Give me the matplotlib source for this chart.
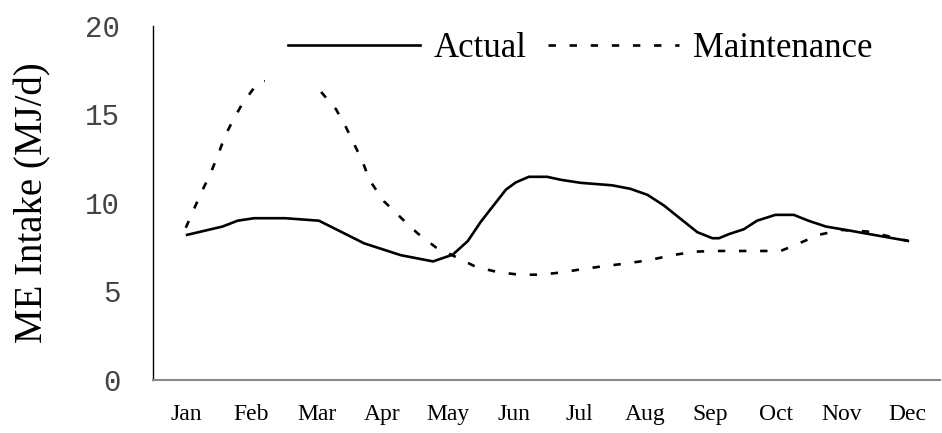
import matplotlib
matplotlib.use("Agg")
import matplotlib.pyplot as plt

# month labels and positions (0 = Jan ... 11 = Dec)
months = ['Jan', 'Feb', 'Mar', 'Apr', 'May', 'Jun', 'Jul', 'Aug', 'Sep', 'Oct', 'Nov', 'Dec']

# Actual ME intake (x in months from Jan)
actual_x = [0.02, 0.56, 0.79, 1.04, 1.52, 2.03, 2.72, 3.28, 3.77, 4.07, 4.3, 4.5, 4.88,
            5.03, 5.23, 5.51, 5.72, 6.02, 6.5, 6.78, 7.04, 7.29, 7.8, 8.03, 8.13, 8.28,
            8.51, 8.71, 8.99, 9.27, 9.5, 9.76, 10.14, 10.64, 11.01]
actual_y = [8.2, 8.67, 9.0, 9.14, 9.14, 9.0, 7.72, 7.05, 6.7, 7.08, 7.85, 8.95, 10.75,
            11.16, 11.48, 11.48, 11.31, 11.14, 11.0, 10.8, 10.46, 9.86, 8.35, 8.01, 8.01, 8.24,
            8.52, 9.0, 9.33, 9.33, 8.99, 8.67, 8.43, 8.1, 7.86]

# Maintenance requirement (peak between Feb and Mar hidden by legend)
maint_x = [0.0, 0.13, 0.25, 0.37, 0.5, 0.6, 0.71, 0.86, 1.0, 1.08, 1.5, 2.0, 2.08, 2.29,
           2.44, 2.57, 2.69, 2.8, 3.02, 3.3, 3.53, 3.81, 4.09, 4.42, 4.75, 5.08, 5.41,
           5.74, 6.05, 6.37, 6.71, 7.06, 7.42, 7.75, 8.08, 8.41, 8.74, 9.07, 9.32, 9.65,
           10.0, 10.39, 10.74, 11.01]
maint_y = [8.6, 9.7, 10.7, 11.6, 12.8, 13.8, 14.6, 15.6, 16.3, 16.7, 17.3, 16.6, 16.2, 15.3,
           14.3, 13.3, 12.4, 11.3, 10.1, 9.1, 8.3, 7.5, 7.0, 6.4, 6.1, 5.95, 5.95,
           6.08, 6.27, 6.43, 6.58, 6.77, 7.05, 7.25, 7.29, 7.29, 7.29, 7.29, 7.67, 8.2,
           8.48, 8.39, 8.1, 7.86]

fig = plt.figure(figsize=(9.42, 4.33), dpi=100)
ax = fig.add_axes([153/942, 1-380/433, 787/942, 354/433])

ax.plot(actual_x, actual_y, color='black', lw=1.9, label='Actual', solid_joinstyle='round')
ax.plot(maint_x, maint_y, color='black', lw=1.9, linestyle=(0, (2.8, 5.2)), label='Maintenance')

ax.set_xlim(-0.5, 11.5)
ax.set_ylim(0, 20)
ax.set_yticks([0, 5, 10, 15, 20])
ax.set_xticks(range(12))
ax.set_xticklabels(months, family='Liberation Serif', fontsize=17)
ax.set_yticklabels(['0', '5', '10', '15', '20'], family='Liberation Mono', fontsize=21, color='#444444')
ax.tick_params(axis='both', length=0)
ax.tick_params(axis='x', pad=17)
ax.tick_params(axis='y', pad=23.5)

for s in ['top', 'right']:
    ax.spines[s].set_visible(False)
ax.spines['left'].set_color('black')
ax.spines['left'].set_linewidth(1.0)
ax.spines['bottom'].set_color('#888888')
ax.spines['bottom'].set_linewidth(1.5)

fig.text(33/942, 1-343/433, 'ME Intake (MJ/d)', rotation=90, ha='center', va='bottom',
         family='Liberation Serif', fontsize=28)

leg = ax.legend(loc='center', bbox_to_anchor=(0.543, 0.936), ncol=2, frameon=True,
                prop={'family': 'Liberation Serif', 'size': 25}, handlelength=3.8,
                handletextpad=0.4, columnspacing=0.6, borderpad=0.65, fancybox=False)
leg.get_frame().set_facecolor('white')
leg.get_frame().set_edgecolor('none')
leg.get_frame().set_alpha(1)

fig.savefig('out.png', dpi=100)
